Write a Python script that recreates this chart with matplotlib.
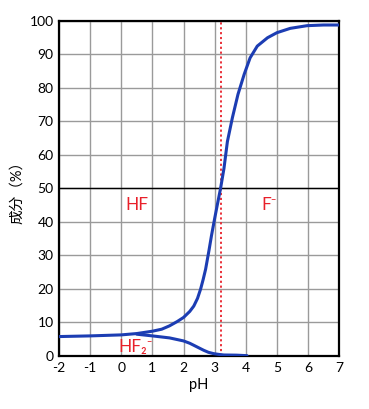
import numpy as np
import matplotlib
matplotlib.use("Agg")
import matplotlib.pyplot as plt

plt.rcParams['font.family'] = ['Lato', 'Noto Sans CJK JP', 'DejaVu Sans']
plt.rcParams['axes.unicode_minus'] = False

# F- fraction curve
f_ph = [-2.0, -1.0, 0.0, 0.5, 1.0, 1.3, 1.55, 1.8, 2.0, 2.2, 2.33, 2.45, 2.55, 2.63, 2.71, 2.82,
        2.9, 3.0, 3.1, 3.19, 3.3, 3.41, 3.57, 3.75, 3.95, 4.14, 4.37, 4.7, 5.0, 5.43, 5.97, 6.5, 7.0]
f_val = [5.8, 6.0, 6.3, 6.7, 7.4, 8.0, 9.0, 10.3, 11.5, 13.3, 14.9, 17.2, 20.0, 22.8, 25.9, 31.6,
         36.0, 41.0, 45.8, 50.0, 56.0, 64.0, 71.1, 78.1, 84.1, 89.0, 92.5, 95.0, 96.5, 97.8, 98.6, 98.8, 98.8]

# HF2- fraction curve
hf2_ph = [0.5, 1.0, 1.55, 2.0, 2.2, 2.33, 2.5, 2.65, 2.8, 2.97, 3.15, 3.3, 3.7, 4.04]
hf2_val = [6.5, 6.0, 5.4, 4.5, 3.8, 3.2, 2.4, 1.7, 1.1, 0.7, 0.45, 0.3, 0.25, 0.1]

pka = 3.19
xticks = [-2, -1, 0, 1, 2, 3, 4, 5, 6, 7]
yticks = list(range(0, 101, 10))

blue = '#1c3db3'
red = '#e8202a'

fig = plt.figure(figsize=(3.69, 4.09), dpi=100)
ax = fig.add_axes([0.16, 0.1296, 0.759, 0.8191])

ax.set_xlim(-2, 7)
ax.set_ylim(0, 100)
ax.set_xticks(xticks)
ax.set_yticks(yticks)
ax.set_xticklabels([str(t) for t in xticks])
ax.grid(True, color='#9a9a9a', linewidth=1.0)
ax.set_axisbelow(True)
ax.axhline(50, color='black', linewidth=1.0, zorder=1)
ax.tick_params(length=0, labelsize=10, pad=4)
for s in ax.spines.values():
    s.set_linewidth(1.6)

ax.axvline(pka, color=red, linestyle=(0, (1.2, 1.5)), linewidth=1.3, zorder=2)

ax.plot(f_ph, f_val, color=blue, linewidth=2.2, zorder=3, solid_capstyle='round', solid_joinstyle='round')
ax.plot(hf2_ph, hf2_val, color=blue, linewidth=2.2, zorder=3, solid_capstyle='round', solid_joinstyle='round')

ax.text(0.5, 45, 'HF', color=red, fontsize=12.5, ha='center', va='center')
ax.text(4.75, 45, 'F⁻', color=red, fontsize=12.5, ha='center', va='center')
ax.text(0.45, 2.8, 'HF₂⁻', color=red, fontsize=12.5, ha='center', va='center')

ax.set_xlabel('pH', fontsize=10.5, labelpad=3)
ax.set_ylabel('成分（%）', fontsize=10.5, labelpad=4)

fig.savefig('out.png', dpi=100)
